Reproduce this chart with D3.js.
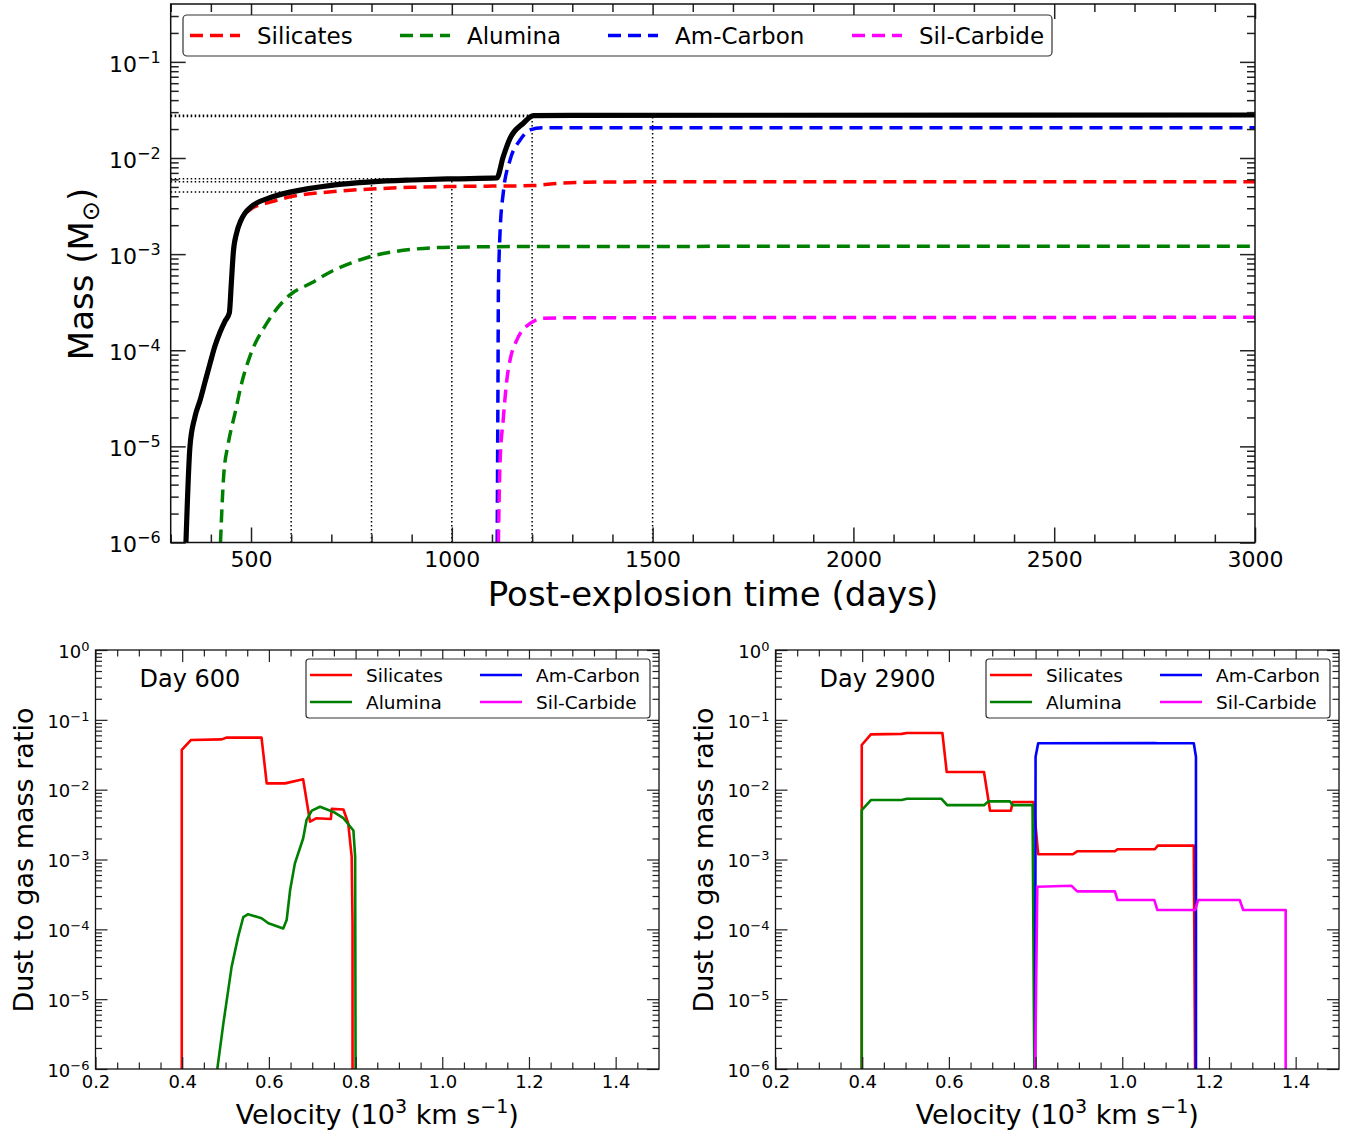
<!DOCTYPE html>
<html><head><meta charset="utf-8">
<script src="https://cdn.jsdelivr.net/npm/d3@7"></script>
<style>body{margin:0;background:#fff} svg{display:block} text{font-family:"DejaVu Sans",sans-serif;fill:#000}</style>
</head><body><svg id="c" width="1353" height="1133"></svg>
<script>
// ---------- DATA (top panel: mass vs post-explosion time) ----------
const totalMass = [[338,1e-6],[348,1e-5],[360,2e-5],[373,3e-5],[385,4.6e-5],[398,7.3e-5],[410,1.1e-4],[423,1.55e-4],[435,2e-4],[446,2.45e-4],[451,5e-4],[456,1.05e-3],[464,1.65e-3],[475,2.25e-3],[485,2.67e-3],[500,3.1e-3],[550,3.9e-3],[600,4.44e-3],[700,5.2e-3],[800,5.65e-3],[900,5.9e-3],[1000,6.07e-3],[1112,6.2e-3],[1128,1.03e-2],[1145,1.6e-2],[1178,2.3e-2],[1203,2.76e-2],[1300,2.78e-2],[3000,2.8e-2]];
const silicatesMass = [[338,1e-6],[348,9.8e-6],[360,1.96e-5],[373,2.94e-5],[385,4.5e-5],[398,7.15e-5],[410,1.08e-4],[423,1.52e-4],[435,1.96e-4],[446,2.4e-4],[451,4.9e-4],[456,1.03e-3],[464,1.6e-3],[475,2.2e-3],[485,2.6e-3],[500,2.95e-3],[550,3.5e-3],[600,3.97e-3],[700,4.45e-3],[800,4.76e-3],[900,4.95e-3],[1000,5.05e-3],[1100,5.1e-3],[1200,5.16e-3],[1270,5.47e-3],[1370,5.62e-3],[1500,5.65e-3],[3000,5.65e-3]];
const aluminaMass = [[424,1e-6],[432,5e-6],[443,1.05e-5],[460,2.2e-5],[477,4.6e-5],[497,8.6e-5],[539,1.9e-4],[597,3.77e-4],[650,5.0e-4],[700,6.6e-4],[750,8.1e-4],[796,9.4e-4],[850,1.05e-3],[900,1.12e-3],[1000,1.18e-3],[1200,1.2e-3],[3000,1.21e-3]];
const amCarbonMass = [[1113,1e-6],[1115,5e-5],[1116,4.2e-4],[1120,1.65e-3],[1128,4.3e-3],[1145,9.5e-3],[1170,1.54e-2],[1195,1.96e-2],[1225,2.06e-2],[1300,2.07e-2],[3000,2.07e-2]];
const silCarbideMass = [[1116,1e-6],[1120,6.7e-6],[1128,1.9e-5],[1137,4.9e-5],[1145,7.9e-5],[1162,1.28e-4],[1195,1.9e-4],[1228,2.15e-4],[1300,2.18e-4],[3000,2.2e-4]];
const markDays = [600, 800, 1000, 1200, 1500];
const topXTicks = [500, 1000, 1500, 2000, 2500, 3000];
const topYTicks = [1e-6, 1e-5, 1e-4, 1e-3, 1e-2, 1e-1];
const speciesNames = ["Silicates", "Alumina", "Am-Carbon", "Sil-Carbide"];
const speciesColors = ["#ff0000", "#008000", "#0000ff", "#ff00ff"];

// ---------- DATA (bottom panels: dust-to-gas ratio vs velocity, 10^3 km/s) ----------
const silicates600 = [[0.399,1e-6],[0.399,0.037],[0.42,0.0514],[0.491,0.0525],[0.503,0.0557],[0.583,0.0557],[0.595,0.0123],[0.637,0.0123],[0.679,0.0141],[0.695,3.48e-3],[0.71,3.9e-3],[0.743,3.8e-3],[0.745,5.3e-3],[0.772,5.2e-3],[0.783,3.3e-3],[0.791,1.1e-3],[0.793,1.2e-4],[0.793,1e-6]];
const alumina600 = [[0.481,1e-6],[0.495,4.5e-6],[0.514,2.9e-5],[0.529,7.8e-5],[0.541,1.5e-4],[0.552,1.65e-4],[0.583,1.44e-4],[0.599,1.22e-4],[0.633,1.03e-4],[0.641,1.36e-4],[0.649,3.66e-4],[0.66,8.8e-4],[0.679,2.0e-3],[0.687,3.7e-3],[0.699,5.0e-3],[0.718,5.7e-3],[0.749,4.8e-3],[0.772,3.9e-3],[0.795,2.6e-3],[0.799,1.1e-3],[0.80,1e-6]];
const silicates2900 = [[0.399,1e-6],[0.399,0.0436],[0.42,0.062],[0.491,0.063],[0.503,0.0648],[0.585,0.0648],[0.595,0.0179],[0.681,0.0179],[0.695,5.0e-3],[0.743,5.0e-3],[0.747,6.65e-3],[0.795,6.65e-3],[0.806,1.19e-3],[0.886,1.19e-3],[0.896,1.31e-3],[0.983,1.31e-3],[0.989,1.4e-3],[1.075,1.4e-3],[1.082,1.58e-3],[1.165,1.58e-3],[1.168,1e-6]];
const alumina2900 = [[0.399,1e-6],[0.399,5.1e-3],[0.42,7.1e-3],[0.491,7.1e-3],[0.503,7.4e-3],[0.583,7.4e-3],[0.596,6.0e-3],[0.681,6.0e-3],[0.691,6.8e-3],[0.741,6.8e-3],[0.747,6.0e-3],[0.793,6.0e-3],[0.797,1e-6]];
const amCarbon2900 = [[0.799,1e-6],[0.8,0.0296],[0.806,0.0461],[1.075,0.0465],[1.083,0.0461],[1.165,0.0461],[1.170,0.0296],[1.170,1e-6]];
const silCarbide2900 = [[0.799,1e-6],[0.804,4.08e-4],[0.883,4.2e-4],[0.896,3.5e-4],[0.983,3.5e-4],[0.989,2.63e-4],[1.074,2.63e-4],[1.081,1.89e-4],[1.168,1.89e-4],[1.175,2.63e-4],[1.271,2.63e-4],[1.279,1.89e-4],[1.377,1.89e-4],[1.377,1e-6]];
const velTicks = [0.2, 0.4, 0.6, 0.8, 1.0, 1.2, 1.4];
const ratioTicks = [1e-6, 1e-5, 1e-4, 1e-3, 1e-2, 1e-1, 1];

// ---------- DRAWING ----------
const svg = d3.select("#c");
const SUPMINUS = "\u2212";

function logMinor(lo, hi) {
  const out = [];
  for (let k = Math.floor(Math.log10(lo)); k <= Math.ceil(Math.log10(hi)); k++)
    for (let m = 2; m <= 9; m++) { const v = m * Math.pow(10, k); if (v > lo && v < hi * 0.999) out.push(v); }
  return out;
}
function supLabels(g, fs, supFs, raise) {
  g.selectAll(".tick text").each(function (d) {
    const e = Math.round(Math.log10(d));
    const t = d3.select(this).text(null);
    t.append("tspan").text("10");
    t.append("tspan").attr("font-size", supFs).attr("dy", -raise).text(e < 0 ? SUPMINUS + (-e) : String(e));
  });
}
function panel(opts) {
  const { x, y, xMajor, xMinor, yMajor, yMinor, majLen, minLen, fs, supFs, raise, xPad, yPad, sw } = opts;
  const [x0, x1] = x.range(), [y0, y1] = y.range(); // y0 bottom
  const g = svg.append("g");
  const style = a => a.selectAll(".domain").remove();
  const tickStyle = (sel) => sel.selectAll("line").attr("stroke", "#222").attr("stroke-width", sw);
  // bottom
  let a = g.append("g").attr("transform", `translate(0,${y0})`)
    .call(d3.axisBottom(x).tickValues(xMajor).tickSize(-majLen).tickPadding(xPad).tickFormat(opts.xFmt));
  style(a); tickStyle(a); a.selectAll("text").attr("font-size", fs).attr("font-family", "DejaVu Sans");
  a = g.append("g").attr("transform", `translate(0,${y0})`).call(d3.axisBottom(x).tickValues(xMinor).tickSize(-minLen).tickFormat(""));
  style(a); tickStyle(a);
  // top
  a = g.append("g").attr("transform", `translate(0,${y1})`).call(d3.axisTop(x).tickValues(xMajor).tickSize(-majLen).tickFormat(""));
  style(a); tickStyle(a);
  a = g.append("g").attr("transform", `translate(0,${y1})`).call(d3.axisTop(x).tickValues(xMinor).tickSize(-minLen).tickFormat(""));
  style(a); tickStyle(a);
  // left
  a = g.append("g").attr("transform", `translate(${x0},0)`)
    .call(d3.axisLeft(y).tickValues(yMajor).tickSize(-majLen).tickPadding(yPad).tickFormat(d => d));
  style(a); tickStyle(a);
  a.selectAll("text").attr("font-size", fs).attr("font-family", "DejaVu Sans").attr("dy", opts.yDy);
  supLabels(a, fs, supFs, raise);
  a = g.append("g").attr("transform", `translate(${x0},0)`).call(d3.axisLeft(y).tickValues(yMinor).tickSize(-minLen).tickFormat(""));
  style(a); tickStyle(a);
  // right
  a = g.append("g").attr("transform", `translate(${x1},0)`).call(d3.axisRight(y).tickValues(yMajor).tickSize(-majLen).tickFormat(""));
  style(a); tickStyle(a);
  a = g.append("g").attr("transform", `translate(${x1},0)`).call(d3.axisRight(y).tickValues(yMinor).tickSize(-minLen).tickFormat(""));
  style(a); tickStyle(a);
  g.append("rect").attr("x", x0).attr("y", y1).attr("width", x1 - x0).attr("height", y0 - y1)
    .attr("fill", "none").attr("stroke", "#111").attr("stroke-width", opts.frame);
  return g;
}
let clipId = 0;
function clipFor(x, y) {
  const id = "clip" + (clipId++);
  const [x0, x1] = x.range(), [y0, y1] = y.range();
  svg.append("clipPath").attr("id", id).append("rect").attr("x", x0).attr("y", y1).attr("width", x1 - x0).attr("height", y0 - y1);
  return "url(#" + id + ")";
}

// ===== Top panel =====
const xT = d3.scaleLinear([300, 3000], [170.7, 1255]);
const yT = d3.scaleLog([1e-6, 0.4], [542.5, 4]);
const clipT = clipFor(xT, yT);
const gT = svg.append("g").attr("clip-path", clipT);
const lineT = d3.line().x(d => xT(d[0])).y(d => yT(d[1])).curve(d3.curveMonotoneX);

// dotted guide lines at marked days
const logInterp = (arr, t) => {
  for (let i = 1; i < arr.length; i++) if (arr[i][0] >= t) {
    const [a, av] = arr[i - 1], [b, bv] = arr[i];
    const f = (t - a) / (b - a);
    return Math.pow(10, Math.log10(av) + f * (Math.log10(bv) - Math.log10(av)));
  }
  return arr[arr.length - 1][1];
};
markDays.forEach(t => {
  const m = logInterp(totalMass, t);
  gT.append("line").attr("x1", xT(t)).attr("x2", xT(t)).attr("y1", yT(1e-6)).attr("y2", yT(m))
    .attr("stroke", "#000").attr("stroke-width", 1.5).attr("stroke-dasharray", "1.5,2.5");
  gT.append("line").attr("x1", xT(300)).attr("x2", xT(t)).attr("y1", yT(m)).attr("y2", yT(m))
    .attr("stroke", "#000").attr("stroke-width", 1.5).attr("stroke-dasharray", "1.5,2.5");
});
[silicatesMass, aluminaMass, amCarbonMass, silCarbideMass].forEach((s, i) => {
  gT.append("path").attr("d", lineT(s)).attr("fill", "none").attr("stroke", speciesColors[i])
    .attr("stroke-width", 3.5).attr("stroke-dasharray", "13,7");
});
gT.append("path").attr("d", lineT(totalMass)).attr("fill", "none").attr("stroke", "#000").attr("stroke-width", 5.2);

panel({ x: xT, y: yT, xMajor: topXTicks, xMinor: d3.range(300, 3001, 100).filter(v => v % 500),
  yMajor: topYTicks, yMinor: logMinor(1e-6, 0.4), majLen: 15, minLen: 8, fs: 22, supFs: 16, raise: 9,
  xPad: 9, yPad: 10, sw: 1.5, frame: 1.5, yDy: "0.42em", xFmt: d => d });

// legend top
const lgT = svg.append("g");
lgT.append("rect").attr("x", 183).attr("y", 15).attr("width", 869).attr("height", 41).attr("rx", 4)
  .attr("fill", "#fff").attr("stroke", "#333").attr("stroke-width", 1.2);
const lgTx = [190, 400, 608, 852];
speciesNames.forEach((n, i) => {
  lgT.append("line").attr("x1", lgTx[i]).attr("x2", lgTx[i] + 50).attr("y1", 35.5).attr("y2", 35.5)
    .attr("stroke", speciesColors[i]).attr("stroke-width", 3.5).attr("stroke-dasharray", "13,7");
  lgT.append("text").attr("x", lgTx[i] + 67).attr("y", 43.5).attr("font-size", 23).text(n);
});
// titles top
svg.append("text").attr("x", 713).attr("y", 606).attr("text-anchor", "middle").attr("font-size", 34).text("Post-explosion time (days)");
const yl = svg.append("text").attr("transform", "translate(93,274) rotate(-90)").attr("text-anchor", "middle").attr("font-size", 34);
yl.append("tspan").text("Mass (M");
yl.append("tspan").attr("font-size", 24).attr("dy", 6).text("\u2299");
yl.append("tspan").attr("dy", -6).text(")");

// ===== Bottom panels =====
function bottomPanel(x0, x1, dayLabel, series, legendX) {
  const x = d3.scaleLinear([0.2, 1.5], [x0, x1]);
  const y = d3.scaleLog([1e-6, 1], [1069, 650]);
  const clip = clipFor(x, y);
  const g = svg.append("g").attr("clip-path", clip);
  const line = d3.line().x(d => x(d[0])).y(d => y(d[1]));
  series.forEach(s => {
    if (s.data) g.append("path").attr("d", line(s.data)).attr("fill", "none").attr("stroke", s.color)
      .attr("stroke-width", 2.6).attr("stroke-linejoin", "round");
  });
  panel({ x, y, xMajor: velTicks, xMinor: d3.range(0.25, 1.5, 0.05).filter(v => Math.abs(v * 5 - Math.round(v * 5)) > 1e-6),
    yMajor: ratioTicks, yMinor: logMinor(1e-6, 1), majLen: 12, minLen: 6.5, fs: 18, supFs: 13, raise: 7,
    xPad: 6, yPad: 6, sw: 1.2, frame: 1.3, yDy: "0.4em", xFmt: d3.format(".1f") });
  svg.append("text").attr("x", x0 + 44).attr("y", 687).attr("font-size", 24).text(dayLabel);
  // legend
  const lg = svg.append("g");
  lg.append("rect").attr("x", legendX).attr("y", 659).attr("width", 344).attr("height", 59).attr("rx", 3)
    .attr("fill", "#fff").attr("stroke", "#333").attr("stroke-width", 1.2);
  series.forEach((s, i) => {
    const cx = legendX + 4 + (i >= 2 ? 170 : 0), cy = i % 2 === 0 ? 675 : 702;
    lg.append("line").attr("x1", cx).attr("x2", cx + 42).attr("y1", cy).attr("y2", cy).attr("stroke", s.color).attr("stroke-width", 2.6);
    lg.append("text").attr("x", cx + 56).attr("y", cy + 6.5).attr("font-size", 18.5).text(s.name);
  });
  // axis titles
  const xl = svg.append("text").attr("x", (x0 + x1) / 2).attr("y", 1124).attr("text-anchor", "middle").attr("font-size", 27);
  xl.append("tspan").text("Velocity (10");
  xl.append("tspan").attr("font-size", 19).attr("dy", -11).text("3");
  xl.append("tspan").attr("dy", 11).text(" km s");
  xl.append("tspan").attr("font-size", 19).attr("dy", -11).text(SUPMINUS + "1");
  xl.append("tspan").attr("dy", 11).text(")");
  svg.append("text").attr("transform", `translate(${x0 - 63},860) rotate(-90)`).attr("text-anchor", "middle")
    .attr("font-size", 27).text("Dust to gas mass ratio");
}
// order: Silicates, Alumina (col1), Am-Carbon, Sil-Carbide (col2)
bottomPanel(95.5, 659, "Day 600", [
  { name: "Silicates", color: speciesColors[0], data: silicates600 },
  { name: "Alumina", color: speciesColors[1], data: alumina600 },
  { name: "Am-Carbon", color: speciesColors[2], data: null },
  { name: "Sil-Carbide", color: speciesColors[3], data: null }], 306);
bottomPanel(775.5, 1339, "Day 2900", [
  { name: "Silicates", color: speciesColors[0], data: silicates2900 },
  { name: "Alumina", color: speciesColors[1], data: alumina2900 },
  { name: "Am-Carbon", color: speciesColors[2], data: amCarbon2900 },
  { name: "Sil-Carbide", color: speciesColors[3], data: silCarbide2900 }], 986);
</script></body></html>
